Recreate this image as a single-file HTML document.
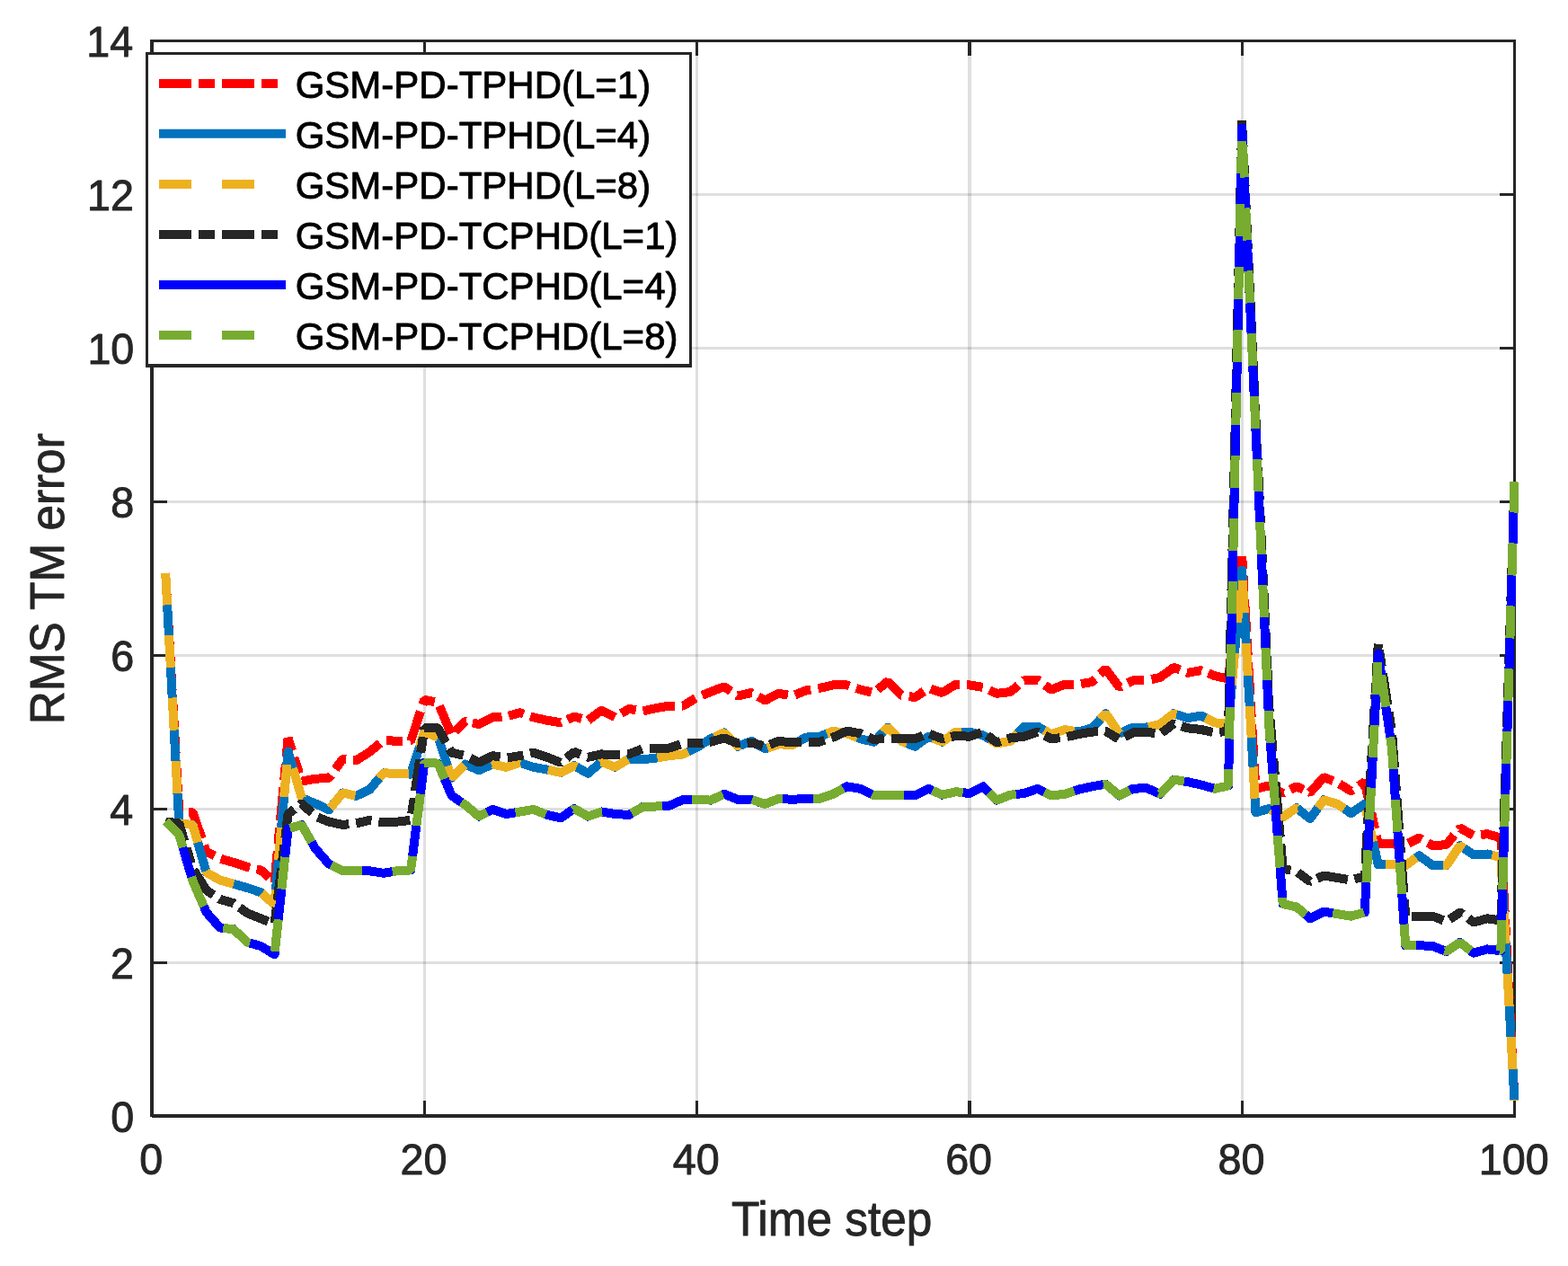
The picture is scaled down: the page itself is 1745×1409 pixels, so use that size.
<!DOCTYPE html>
<html lang="en"><head><meta charset="utf-8"><title>RMS TM error</title>
<style>html,body{margin:0;padding:0;background:#fff}body{width:1745px;height:1409px;overflow:hidden}svg{display:block}text{font-family:"Liberation Sans",Arial,sans-serif;stroke-linejoin:round}</style></head><body>
<svg width="1745" height="1409" viewBox="0 0 1745 1409">
<rect width="1745" height="1409" fill="#fff"/>
<g fill="#262626" fill-opacity="0.15">
<rect x="471" y="47" width="3" height="1193" fill="#262626"/>
<rect x="774" y="47" width="3" height="1193" fill="#262626"/>
<rect x="1077" y="47" width="4" height="1193" fill="#262626"/>
<rect x="1381" y="47" width="3" height="1193" fill="#262626"/>
<rect x="171" y="1070" width="1513" height="3" fill="#262626"/>
<rect x="171" y="899" width="1513" height="3" fill="#262626"/>
<rect x="171" y="728" width="1513" height="3" fill="#262626"/>
<rect x="171" y="557" width="1513" height="3" fill="#262626"/>
<rect x="171" y="386" width="1513" height="3" fill="#262626"/>
<rect x="171" y="215" width="1513" height="3" fill="#262626"/>
</g>
<g fill="#262626">
<rect x="471" y="1225" width="3" height="15" fill="#262626"/>
<rect x="471" y="47" width="3" height="15" fill="#262626"/>
<rect x="774" y="1225" width="3" height="15" fill="#262626"/>
<rect x="774" y="47" width="3" height="15" fill="#262626"/>
<rect x="1077" y="1225" width="4" height="15" fill="#262626"/>
<rect x="1077" y="47" width="4" height="15" fill="#262626"/>
<rect x="1381" y="1225" width="3" height="15" fill="#262626"/>
<rect x="1381" y="47" width="3" height="15" fill="#262626"/>
<rect x="171" y="1070" width="15" height="3" fill="#262626"/>
<rect x="1669" y="1070" width="15" height="3" fill="#262626"/>
<rect x="171" y="899" width="15" height="3" fill="#262626"/>
<rect x="1669" y="899" width="15" height="3" fill="#262626"/>
<rect x="171" y="728" width="15" height="3" fill="#262626"/>
<rect x="1669" y="728" width="15" height="3" fill="#262626"/>
<rect x="171" y="557" width="15" height="3" fill="#262626"/>
<rect x="1669" y="557" width="15" height="3" fill="#262626"/>
<rect x="171" y="386" width="15" height="3" fill="#262626"/>
<rect x="1669" y="386" width="15" height="3" fill="#262626"/>
<rect x="171" y="215" width="15" height="3" fill="#262626"/>
<rect x="1669" y="215" width="15" height="3" fill="#262626"/>
<rect x="167" y="44" width="4" height="1199" fill="#262626"/>
<rect x="1684" y="44" width="3" height="1200" fill="#262626"/>
<rect x="167" y="44" width="1520" height="3" fill="#262626"/>
<rect x="169" y="1240" width="1518" height="4" fill="#262626"/>
</g>
<path d="M184.2,637.7 L199.3,904.3 L214.5,904.0 L229.7,947.9 L244.8,955.6 L260.0,959.9 L275.2,965.0 L290.3,968.4 L305.5,982.1 L320.6,821.4 L335.8,869.7 L351.0,866.7 L366.1,865.9 L381.3,844.9 L396.5,846.2 L411.6,836.8 L426.8,824.0 L442.0,824.8 L457.1,824.8 L472.3,778.7 L487.5,782.1 L502.6,818.0 L517.8,802.6 L533.0,806.0 L548.1,798.3 L563.3,797.5 L578.5,793.2 L593.6,798.3 L608.8,801.8 L624.0,804.3 L639.1,797.5 L654.3,801.8 L669.4,790.6 L684.6,798.3 L699.8,788.9 L714.9,791.5 L730.1,788.1 L745.3,785.5 L760.4,785.5 L775.6,776.1 L790.8,770.1 L805.9,764.2 L821.1,774.4 L836.3,771.0 L851.4,779.5 L866.6,771.8 L881.8,774.4 L896.9,768.4 L912.1,765.9 L927.2,762.4 L942.4,762.4 L957.6,767.6 L972.7,771.0 L987.9,758.2 L1003.1,773.6 L1018.2,776.1 L1033.4,765.9 L1048.6,771.0 L1063.7,761.6 L1078.9,762.4 L1094.1,765.0 L1109.2,771.8 L1124.4,770.1 L1139.6,757.3 L1154.7,756.5 L1169.9,767.6 L1185.1,761.6 L1200.2,761.6 L1215.4,759.0 L1230.5,744.5 L1245.7,765.0 L1260.9,757.3 L1276.0,757.3 L1291.2,753.9 L1306.4,742.8 L1321.5,748.8 L1336.7,746.2 L1351.9,752.2 L1367.0,755.6 L1382.2,619.2 L1397.4,877.8 L1412.5,874.4 L1427.7,883.0 L1442.9,875.3 L1458.0,882.1 L1473.2,865.0 L1488.4,871.0 L1503.5,880.4 L1518.7,870.1 L1533.8,939.4 L1549.0,939.4 L1564.2,940.2 L1579.3,932.5 L1594.5,941.1 L1609.7,940.2 L1624.8,921.4 L1640.0,930.0 L1655.2,928.2 L1670.3,932.5 L1685.5,1224.4" fill="none" stroke="#ff0000" stroke-width="10" stroke-linejoin="bevel" stroke-linecap="butt" shape-rendering="crispEdges" stroke-dasharray="35.8 7.9 17.9 7.9 35.8 7.9 17.9 7.9 35.8 7.9 17.9 7.9 35.8 7.9 17.9 7.9 35.3 7.8 17.6 7.8 34 7.6 17.4 7.7 34.9 7.9 18.4 8.2 36.5 8.1 18.1 8 36.2 8.1 18.5 8.2 35.9 8 17.7 7.9 36.2 8.1 18.4 8.2 35.3 7.8 17.6 7.8 33.4 7.4 16.7 7.4 34.8 7.7 17.4 7.7 35.2 7.8 16.8 7.5 35.6 7.9 18.1 8 35.6 7.9 17.9 7.9 35.6 7.9 17.6 7.8 36.3 8.1 18.5 8.2 35.6 7.9 17.7 7.9 36.9 8.2 18.8 8.3 36.1 8 17.8 7.9 35.9 8 17.7 7.9 35.2 7.8 17.2 7.7 36.4 8.1 18.9 8.4 36.1 8 17.1 7.6 35.8 8 17.9 8 35.8 8 17.9 8 35.8 8 17.9 8 35.8 8 17.9 8 35.8 8 17.9 8 35.8 8 17.9 8 35.8 7.9 16.2 7.3 34.9 7.8 17.8 7.9 35.7 7.9 17.8 7.9 35.7 7.9 16.9 7.5 35.3 8 19.3 8.6 36 8 18 8 36 8 18 8 36 8 18 8 36 8 18 8 85.3 0"/>
<path d="M184.2,637.7 L199.3,916.3 L214.5,918.0 L229.7,971.0 L244.8,979.5 L260.0,983.8 L275.2,988.1 L290.3,993.2 L305.5,1006.9 L320.6,836.5 L335.8,888.1 L351.0,894.4 L366.1,901.2 L381.3,882.4 L396.5,885.9 L411.6,878.5 L426.8,860.3 L442.0,860.9 L457.1,861.6 L472.3,814.6 L487.5,820.6 L502.6,865.9 L517.8,850.5 L533.0,857.3 L548.1,850.5 L563.3,853.9 L578.5,848.8 L593.6,853.9 L608.8,856.5 L624.0,859.9 L639.1,852.2 L654.3,860.7 L669.4,847.9 L684.6,853.9 L699.8,844.5 L714.9,845.3 L730.1,843.6 L745.3,841.1 L760.4,839.4 L775.6,831.7 L790.8,822.3 L805.9,815.4 L821.1,830.8 L836.3,824.8 L851.4,833.4 L866.6,828.3 L881.8,829.1 L896.9,820.6 L912.1,819.7 L927.2,813.7 L942.4,816.3 L957.6,822.3 L972.7,825.7 L987.9,809.5 L1003.1,824.8 L1018.2,830.8 L1033.4,819.7 L1048.6,825.7 L1063.7,814.6 L1078.9,814.6 L1094.1,818.4 L1109.2,827.4 L1124.4,824.8 L1139.6,808.6 L1154.7,808.6 L1169.9,817.1 L1185.1,812.0 L1200.2,814.6 L1215.4,810.3 L1230.5,794.1 L1245.7,816.3 L1260.9,809.5 L1276.0,809.5 L1291.2,806.0 L1306.4,794.1 L1321.5,799.2 L1336.7,796.6 L1351.9,804.3 L1367.0,806.0 L1382.2,634.6 L1397.4,904.3 L1412.5,900.0 L1427.7,909.4 L1442.9,899.2 L1458.0,911.2 L1473.2,890.2 L1488.4,894.9 L1503.5,905.2 L1518.7,894.9 L1533.8,962.4 L1549.0,961.6 L1564.2,963.3 L1579.3,952.2 L1594.5,963.3 L1609.7,963.3 L1624.8,941.1 L1640.0,951.3 L1655.2,950.5 L1670.3,954.3 L1685.5,1224.8" fill="none" stroke="#0072bd" stroke-width="10" stroke-linejoin="round" stroke-linecap="butt" shape-rendering="crispEdges"/>
<path d="M184.2,637.7 L199.3,916.3 L214.5,918.0 L229.7,971.0 L244.8,979.5 L260.0,983.8 L275.2,988.1 L290.3,993.2 L305.5,1006.9 L320.6,836.5 L335.8,888.1 L351.0,894.4 L366.1,901.2 L381.3,882.4 L396.5,885.9 L411.6,878.5 L426.8,860.3 L442.0,860.9 L457.1,861.6 L472.3,814.6 L487.5,820.6 L502.6,865.9 L517.8,850.5 L533.0,857.3 L548.1,850.5 L563.3,853.9 L578.5,848.8 L593.6,853.9 L608.8,856.5 L624.0,859.9 L639.1,852.2 L654.3,860.7 L669.4,847.9 L684.6,853.9 L699.8,844.5 L714.9,845.3 L730.1,843.6 L745.3,841.1 L760.4,839.4 L775.6,831.7 L790.8,822.3 L805.9,815.4 L821.1,830.8 L836.3,824.8 L851.4,833.4 L866.6,828.3 L881.8,829.1 L896.9,820.6 L912.1,819.7 L927.2,813.7 L942.4,816.3 L957.6,822.3 L972.7,825.7 L987.9,809.5 L1003.1,824.8 L1018.2,830.8 L1033.4,819.7 L1048.6,825.7 L1063.7,814.6 L1078.9,814.6 L1094.1,818.4 L1109.2,827.4 L1124.4,824.8 L1139.6,808.6 L1154.7,808.6 L1169.9,817.1 L1185.1,812.0 L1200.2,814.6 L1215.4,810.3 L1230.5,794.1 L1245.7,816.3 L1260.9,809.5 L1276.0,809.5 L1291.2,806.0 L1306.4,794.1 L1321.5,799.2 L1336.7,796.6 L1351.9,804.3 L1367.0,806.0 L1382.2,634.6 L1397.4,904.3 L1412.5,900.0 L1427.7,909.4 L1442.9,899.2 L1458.0,911.2 L1473.2,890.2 L1488.4,894.9 L1503.5,905.2 L1518.7,894.9 L1533.8,962.4 L1549.0,961.6 L1564.2,963.3 L1579.3,952.2 L1594.5,963.3 L1609.7,963.3 L1624.8,941.1 L1640.0,951.3 L1655.2,950.5 L1670.3,954.3 L1685.5,1224.8" fill="none" stroke="#edb120" stroke-width="10" stroke-linejoin="bevel" stroke-linecap="butt" shape-rendering="crispEdges" stroke-dasharray="35.7 33.7 35.8 33.8 36.2 34.2 36.1 34.1 35.1 33.1 34.8 32.9 35.7 33.7 36.2 34.2 36 34 35.9 33.9 36.2 34.2 35.6 33.6 34.9 32.9 34.9 32.9 33.6 31.7 34.4 32.5 34.8 32.9 35.4 33.4 36.1 34.1 35.9 33.9 35.8 33.8 35.7 33.7 35.8 33.8 35.8 33.8 35.8 33.8 35.7 33.7 35.9 33.9 36 34 36.1 34 36.1 34 36 34 36.1 34.1 34.8 32.9 35.1 33.2 35.1 33.3 36.3 34.3 36.3 34.3 36.8 34.7 35.6 33.6 35.9 34 35.9 34 36.3 34.3 36 34 51.4 0"/>
<path d="M184.2,914.6 L199.3,916.3 L214.5,966.7 L229.7,990.6 L244.8,1000.9 L260.0,1005.2 L275.2,1016.3 L290.3,1022.3 L305.5,1028.2 L320.6,906.0 L335.8,894.1 L351.0,908.6 L366.1,914.6 L381.3,918.0 L396.5,916.3 L411.6,912.9 L426.8,915.4 L442.0,914.6 L457.1,912.9 L472.3,810.3 L487.5,810.3 L502.6,837.7 L517.8,841.1 L533.0,848.8 L548.1,841.1 L563.3,843.6 L578.5,841.1 L593.6,837.7 L608.8,842.8 L624.0,848.8 L639.1,836.8 L654.3,842.8 L669.4,839.4 L684.6,840.2 L699.8,839.4 L714.9,833.4 L730.1,833.4 L745.3,832.5 L760.4,827.4 L775.6,827.4 L790.8,825.7 L805.9,821.4 L821.1,827.4 L836.3,826.5 L851.4,830.8 L866.6,824.8 L881.8,826.5 L896.9,825.7 L912.1,825.7 L927.2,820.6 L942.4,813.7 L957.6,816.3 L972.7,823.1 L987.9,821.4 L1003.1,822.3 L1018.2,822.3 L1033.4,816.3 L1048.6,822.3 L1063.7,818.9 L1078.9,819.7 L1094.1,814.6 L1109.2,826.5 L1124.4,821.4 L1139.6,819.7 L1154.7,814.6 L1169.9,822.3 L1185.1,820.6 L1200.2,817.1 L1215.4,814.6 L1230.5,813.7 L1245.7,823.1 L1260.9,815.4 L1276.0,814.6 L1291.2,817.1 L1306.4,805.2 L1321.5,810.3 L1336.7,812.0 L1351.9,815.4 L1367.0,813.7 L1382.2,134.3 L1397.4,464.2 L1412.5,788.9 L1427.7,966.7 L1442.9,970.1 L1458.0,981.2 L1473.2,974.4 L1488.4,977.0 L1503.5,979.5 L1518.7,975.3 L1533.8,716.3 L1549.0,814.6 L1564.2,1019.7 L1579.3,1019.7 L1594.5,1019.7 L1609.7,1025.7 L1624.8,1015.4 L1640.0,1026.5 L1655.2,1022.3 L1670.3,1024.4 L1685.5,536.0" fill="none" stroke="#262626" stroke-width="10" stroke-linejoin="bevel" stroke-linecap="butt" shape-rendering="crispEdges" stroke-dasharray="35.9 8 17.9 8 35.9 8 17 7.6 35.8 8 17.9 8 35.8 8 17.9 8 35.8 8 18.2 8.1 36.2 8 17.6 7.8 35.4 7.9 17.8 7.9 35.3 7.8 17.7 7.9 35.5 7.9 18.5 8.2 36.8 8.2 17.8 7.9 36.1 8.1 18.7 8.3 36.4 8.1 17.8 7.9 35.4 7.9 17.3 7.7 35.5 7.9 18.1 8.1 36.4 8.1 17.7 7.9 35.8 8 18.2 8.1 35.9 7.9 17.4 7.7 34.9 7.8 17.8 7.9 36 8 17.8 7.9 35.3 7.8 17.2 7.6 35.2 7.9 18.2 8.1 35.4 7.9 18 8 36 8 18 8 36 8 18 8 36 8 18 8 36 8 18 8 36 8 18 8 36 8 18 8 36 8 18 8 36 8 18 8 36 8 18 8 36 8 18 8 36 8 18 8 36 8 18 8 36 8 18 8 36 8 18 8 36 8 18 8 36 8 18 8 36 8 18 8 36 8 18 8 36 8 18 8 36 8 18 8 36 8 18 8 36 8 17.9 8 35.1 7.8 17.9 8 35.8 8 17.9 8 35.8 8 17.9 8 35.8 8 17.9 8 35.8 8 17.9 8 35.8 8 17.9 8 35.8 8 17.9 8 35.8 8 17.9 8 35.8 8 17.9 8 35.8 7.9 17.5 7.8 36 8 18 8 36 8 18 8 36 8 18 8 36 8 18 8 36 8 18 8 36 8 18 8 36 8 18 8 36 53.9"/>
<path d="M184.2,914.0 L199.3,929.1 L214.5,980.4 L229.7,1015.4 L244.8,1032.5 L260.0,1034.2 L275.2,1048.8 L290.3,1053.0 L305.5,1062.4 L320.6,922.3 L335.8,918.0 L351.0,944.5 L366.1,961.6 L381.3,969.3 L396.5,969.3 L411.6,969.3 L426.8,971.8 L442.0,969.3 L457.1,968.4 L472.3,848.8 L487.5,849.6 L502.6,885.5 L517.8,895.8 L533.0,908.6 L548.1,900.9 L563.3,906.0 L578.5,903.5 L593.6,900.9 L608.8,906.9 L624.0,910.3 L639.1,900.0 L654.3,908.6 L669.4,903.5 L684.6,906.0 L699.8,906.9 L714.9,898.3 L730.1,897.5 L745.3,896.6 L760.4,889.8 L775.6,889.8 L790.8,890.6 L805.9,883.8 L821.1,889.8 L836.3,889.8 L851.4,894.9 L866.6,888.9 L881.8,889.8 L896.9,888.9 L912.1,888.9 L927.2,883.8 L942.4,875.3 L957.6,877.8 L972.7,885.5 L987.9,884.7 L1003.1,884.7 L1018.2,885.5 L1033.4,877.8 L1048.6,884.7 L1063.7,881.2 L1078.9,883.0 L1094.1,875.3 L1109.2,890.6 L1124.4,884.7 L1139.6,883.0 L1154.7,877.8 L1169.9,885.5 L1185.1,883.8 L1200.2,878.7 L1215.4,875.3 L1230.5,872.7 L1245.7,885.5 L1260.9,877.8 L1276.0,877.0 L1291.2,883.8 L1306.4,867.6 L1321.5,870.1 L1336.7,873.5 L1351.9,877.8 L1367.0,874.4 L1382.2,142.4 L1397.4,477.0 L1412.5,810.3 L1427.7,1006.0 L1442.9,1009.4 L1458.0,1022.3 L1473.2,1014.6 L1488.4,1017.1 L1503.5,1019.7 L1518.7,1015.4 L1533.8,727.4 L1549.0,833.4 L1564.2,1052.2 L1579.3,1052.2 L1594.5,1053.0 L1609.7,1059.0 L1624.8,1048.8 L1640.0,1060.7 L1655.2,1056.4 L1670.3,1058.2 L1685.5,536.4" fill="none" stroke="#0000ff" stroke-width="10" stroke-linejoin="round" stroke-linecap="butt" shape-rendering="crispEdges"/>
<path d="M184.2,914.0 L199.3,929.1 L214.5,980.4 L229.7,1015.4 L244.8,1032.5 L260.0,1034.2 L275.2,1048.8 L290.3,1053.0 L305.5,1062.4 L320.6,922.3 L335.8,918.0 L351.0,944.5 L366.1,961.6 L381.3,969.3 L396.5,969.3 L411.6,969.3 L426.8,971.8 L442.0,969.3 L457.1,968.4 L472.3,848.8 L487.5,849.6 L502.6,885.5 L517.8,895.8 L533.0,908.6 L548.1,900.9 L563.3,906.0 L578.5,903.5 L593.6,900.9 L608.8,906.9 L624.0,910.3 L639.1,900.0 L654.3,908.6 L669.4,903.5 L684.6,906.0 L699.8,906.9 L714.9,898.3 L730.1,897.5 L745.3,896.6 L760.4,889.8 L775.6,889.8 L790.8,890.6 L805.9,883.8 L821.1,889.8 L836.3,889.8 L851.4,894.9 L866.6,888.9 L881.8,889.8 L896.9,888.9 L912.1,888.9 L927.2,883.8 L942.4,875.3 L957.6,877.8 L972.7,885.5 L987.9,884.7 L1003.1,884.7 L1018.2,885.5 L1033.4,877.8 L1048.6,884.7 L1063.7,881.2 L1078.9,883.0 L1094.1,875.3 L1109.2,890.6 L1124.4,884.7 L1139.6,883.0 L1154.7,877.8 L1169.9,885.5 L1185.1,883.8 L1200.2,878.7 L1215.4,875.3 L1230.5,872.7 L1245.7,885.5 L1260.9,877.8 L1276.0,877.0 L1291.2,883.8 L1306.4,867.6 L1321.5,870.1 L1336.7,873.5 L1351.9,877.8 L1367.0,874.4 L1382.2,142.4 L1397.4,477.0 L1412.5,810.3 L1427.7,1006.0 L1442.9,1009.4 L1458.0,1022.3 L1473.2,1014.6 L1488.4,1017.1 L1503.5,1019.7 L1518.7,1015.4 L1533.8,727.4 L1549.0,833.4 L1564.2,1052.2 L1579.3,1052.2 L1594.5,1053.0 L1609.7,1059.0 L1624.8,1048.8 L1640.0,1060.7 L1655.2,1056.4 L1670.3,1058.2 L1685.5,536.4" fill="none" stroke="#77ac30" stroke-width="10" stroke-linejoin="bevel" stroke-linecap="butt" shape-rendering="crispEdges" stroke-dasharray="36 34 35.7 33.7 35.9 33.9 35.9 33.9 35.9 33.9 35.9 33.9 36 34 36.1 34.1 35.7 33.7 35.4 33.4 35.2 33.3 35.1 33.2 35.9 33.9 36.2 34.2 35.8 33.8 36 34 36.1 34.1 35.9 33.9 35.6 33.6 35 33.1 35.1 33.2 35.7 33.7 35.7 33.7 35.4 33.4 35.7 33.7 36 34 36 34 36 34 36 34 36 34 36 34 36 34 36 34 36 34 36 34 36 34 36 34 36 34 36 34 36 34 36 34 36 34 36 34 36 34 35.7 33.7 35.7 33.7 35.7 33.7 35.8 33.8 36 34 35.9 33.9 35.9 33.9 35.9 33.9 35.9 33.9 35.9 33.9 35.9 33.9 35.6 33.7 34.9 33 35.7 33.7 35.7 33.7 36 34 36 34 36 34 36 34 36 34 36 34 83.7 0"/>
<g font-size="46.67" fill="#262626" stroke="#262626" stroke-width="0.90" text-anchor="middle">
<text transform="translate(168.2 1307.1) scale(1 1.030)">0</text>
<text transform="translate(471.5 1307.1) scale(1 1.030)">20</text>
<text transform="translate(774.8 1307.1) scale(1 1.030)">40</text>
<text transform="translate(1078.1 1307.1) scale(1 1.030)">60</text>
<text transform="translate(1381.4 1307.1) scale(1 1.030)">80</text>
<text transform="translate(1684.7 1307.1) scale(1 1.030)">100</text>
</g>
<g font-size="46.67" fill="#262626" stroke="#262626" stroke-width="0.90" text-anchor="end">
<text transform="translate(149.3 1259.8) scale(1 1.030)">0</text>
<text transform="translate(148.9 1088.9) scale(1 1.030)">2</text>
<text transform="translate(148.1 917.9) scale(1 1.030)">4</text>
<text transform="translate(149.3 747.0) scale(1 1.030)">6</text>
<text transform="translate(149.3 576.1) scale(1 1.030)">8</text>
<text transform="translate(149.3 405.2) scale(1 1.030)">10</text>
<text transform="translate(148.9 234.2) scale(1 1.030)">12</text>
<text transform="translate(148.1 63.3) scale(1 1.030)">14</text>
</g>
<g font-size="51.33" fill="#262626" stroke="#262626" stroke-width="0.90" text-anchor="middle">
<text transform="translate(925.6 1375.0) scale(1 1.030)">Time step</text>
<text transform="translate(70.8 644.3) rotate(-90) scale(1 1.030)">RMS TM error</text>
</g>
<rect x="162" y="58" width="608" height="351" fill="#262626"/>
<rect x="165" y="61" width="602" height="344" fill="#fff"/>
<path d="M177,92.9 H317" stroke="#ff0000" stroke-width="10" fill="none" stroke-dasharray="36 8 18 8"/>
<path d="M177,148.8 H318" stroke="#0072bd" stroke-width="10" fill="none"/>
<path d="M177,205.0 H317" stroke="#edb120" stroke-width="10" fill="none" stroke-dasharray="36 34"/>
<path d="M177,261.0 H317" stroke="#262626" stroke-width="10" fill="none" stroke-dasharray="36 8 18 8"/>
<path d="M177,317.0 H318" stroke="#0000ff" stroke-width="10" fill="none"/>
<path d="M177,373.0 H317" stroke="#77ac30" stroke-width="10" fill="none" stroke-dasharray="36 34"/>
<g font-size="42" fill="#000" stroke="#000" stroke-width="0.90">
<text transform="translate(328.7 108.6) scale(1 1.030)">GSM-PD-TPHD(L=1)</text>
<text transform="translate(328.7 164.5) scale(1 1.030)">GSM-PD-TPHD(L=4)</text>
<text transform="translate(328.7 220.7) scale(1 1.030)">GSM-PD-TPHD(L=8)</text>
<text transform="translate(328.7 276.7) scale(1 1.030)">GSM-PD-TCPHD(L=1)</text>
<text transform="translate(328.7 332.7) scale(1 1.030)">GSM-PD-TCPHD(L=4)</text>
<text transform="translate(328.7 388.7) scale(1 1.030)">GSM-PD-TCPHD(L=8)</text>
</g>
</svg></body></html>
